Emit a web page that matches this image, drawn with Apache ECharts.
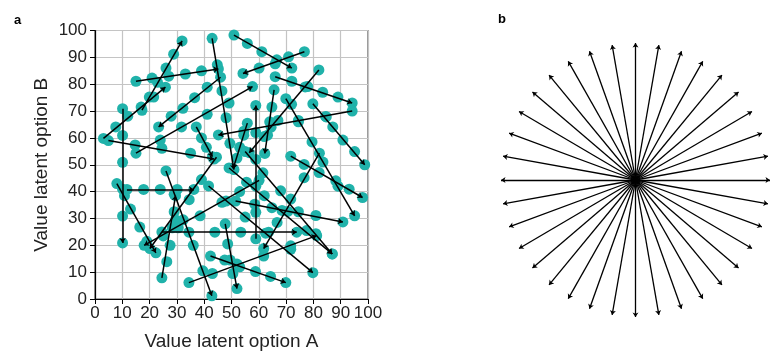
<!DOCTYPE html>
<html><head><meta charset="utf-8">
<script src="https://cdn.jsdelivr.net/npm/echarts@6/dist/echarts.min.js"></script>
<style>html,body{margin:0;padding:0;background:#fff}#c{width:770px;height:356px}</style>
</head><body><div id="c"></div>
<script>
// ---- Panel a: trajectories (first point -> last point, arrow at last) ----
const traj01=[[50.9,98.3],[55.8,95.2],[61.1,92.1],[66.6,89.1],[72.1,86.0]];
const traj02=[[76.7,92.1],[70.9,90.2],[66.0,87.6],[60.1,86.0],[54.2,84.0]];
const traj03=[[17.2,70.3],[19.9,75.2],[22.9,80.7],[26.0,86.0],[28.8,91.2],[31.9,96.1]];
const traj04=[[15.0,81.1],[20.9,82.3],[27.0,83.0],[33.1,83.8],[39.0,85.0],[45.2,85.7]];
const traj05=[[42.9,97.1],[44.8,87.2],[46.5,77.5],[48.0,67.5],[49.4,58.0],[50.9,48.2]];
const traj06=[[46.0,82.6],[41.1,78.9],[36.5,75.0],[32.2,71.0],[27.9,68.1],[23.3,64.1]];
const traj07=[[15.0,54.3],[23.9,59.2],[31.7,64.1],[41.1,68.8],[49.1,73.0],[57.7,79.1]];
const traj08=[[66.0,82.8],[72.1,81.1],[77.9,79.1],[83.4,77.0],[89.0,75.2],[94.2,73.0]];
const traj09=[[82.0,85.3],[77.0,79.0],[72.0,72.5],[67.0,66.5],[62.0,60.5],[56.5,54.5]];
const traj10=[[65.6,77.9],[64.8,71.5],[64.0,66.0],[63.2,61.0],[62.2,54.2]];
const traj11=[[58.9,22.4],[58.9,32.3],[58.9,42.0],[58.9,52.0],[58.9,62.0],[58.9,72.1]];
const traj12=[[10.1,70.9],[10.1,60.9],[10.1,50.9],[10.1,40.9],[10.1,30.9],[10.1,20.9]];
const traj13=[[11.7,40.8],[17.8,40.8],[23.9,40.8],[30.1,40.8],[36.2,40.8]];
const traj14=[[8.0,43.0],[10.8,38.5],[13.0,33.5],[16.4,26.8],[19.0,21.5],[22.3,17.2]];
const traj15=[[3.1,59.8],[7.6,64.1],[12.0,68.1],[16.9,71.5],[21.5,75.2],[25.8,78.9]];
const traj16=[[4.9,59.0],[14.7,57.4],[24.5,56.1],[35.0,54.3],[43.6,52.1]];
const traj17=[[44.5,52.8],[39.0,44.5],[34.5,37.0],[29.5,29.5],[25.0,23.5],[20.1,18.8]];
const traj18=[[60.1,44.2],[53.0,40.0],[46.5,36.0],[38.5,31.0],[30.5,26.5],[18.0,20.0]];
const traj19=[[24.5,7.9],[26.3,13.9],[27.5,20.0],[28.3,26.5],[29.0,32.5],[29.5,38.5]];
const traj20=[[26.0,47.7],[29.0,39.0],[32.3,29.5],[36.0,20.0],[39.5,10.5],[42.8,1.2]];
const traj21=[[24.5,25.0],[34.4,24.9],[43.9,24.9],[53.4,24.9],[63.6,24.9],[73.9,24.9]];
const traj22=[[34.4,6.1],[43.0,9.5],[52.0,13.0],[61.8,16.0],[71.7,19.8],[81.2,23.6]];
const traj23=[[42.3,16.0],[47.5,14.5],[53.0,12.0],[58.8,10.2],[64.3,8.4],[69.9,6.1]];
const traj24=[[47.7,28.0],[48.6,20.5],[49.5,14.5],[50.5,9.5],[52.0,3.9]];
const traj25=[[55.0,54.9],[61.5,47.0],[68.0,40.3],[74.5,32.5],[80.9,24.3],[86.9,16.8]];
const traj26=[[49.1,48.8],[55.5,43.5],[62.0,38.5],[68.5,33.0],[77.5,25.5],[86.9,16.8]];
const traj27=[[51.5,36.5],[58.5,35.3],[64.8,34.0],[70.6,32.6],[80.9,31.1],[90.8,28.7]];
const traj28=[[41.6,42.1],[48.0,36.5],[55.0,30.5],[62.5,24.5],[71.7,18.5],[79.8,9.8]];
const traj29=[[82.2,54.3],[76.6,45.2],[71.7,37.2],[66.7,28.5],[61.8,18.8]];
const traj30=[[69.9,74.6],[74.5,66.5],[79.5,58.5],[83.5,51.0],[89.0,42.0],[95.1,31.0]];
const traj31=[[79.8,72.7],[84.7,67.8],[87.1,64.1],[90.8,59.2],[95.1,54.9],[98.8,50.0]];
const traj32=[[71.7,53.2],[76.6,50.1],[82.1,47.1],[88.2,44.0],[93.1,40.9],[98.0,37.8]];
const traj33=[[94.2,70.0],[84.5,68.0],[74.5,66.0],[64.5,64.0],[54.5,62.5],[45.2,61.1]];
const traj34=[[55.8,65.5],[54.5,61.0],[53.0,56.5],[52.0,52.5],[50.6,48.5]];
const traj35=[[37.1,64.1],[39.0,60.0],[40.8,56.5],[43.0,53.0]];

const trajectories=[traj01,traj02,traj03,traj04,traj05,traj06,traj07,traj08,traj09,traj10,
 traj11,traj12,traj13,traj14,traj15,traj16,traj17,traj18,traj19,traj20,traj21,traj22,traj23,
 traj24,traj25,traj26,traj27,traj28,traj29,traj30,traj31,traj32,traj33,traj34,traj35];

const axisTicks=[0,10,20,30,40,50,60,70,80,90,100];
const xTitle='Value latent option A';
const yTitle='Value latent option B';

// ---- Panel b: star of arrows (angles in degrees), unit length ----
const starAngles=[0,10,20,30,40,50,60,70,80,90,100,110,120,130,140,150,160,170,
 180,190,200,210,220,230,240,250,260,270,280,290,300,310,320,330,340,350];
const starLength=1;

const font='Liberation Sans, Arial, sans-serif';
const pts=[]; trajectories.forEach(t=>t.forEach(p=>pts.push(p)));
const segs=trajectories.map(t=>({coords:[t[0],t[t.length-1]]}));
const star=starAngles.map(a=>{const r=a*Math.PI/180;return {coords:[[0,0],[starLength*Math.cos(r),starLength*Math.sin(r)]]};});

const chart=echarts.init(document.getElementById('c'),null,{renderer:'canvas'});
chart.setOption({
  animation:false,
  backgroundColor:'#fff',
  title:[
    {text:'a',left:9,top:9,textStyle:{fontSize:13,fontWeight:'bold',fontFamily:font,color:'#000'}},
    {text:'b',left:493,top:8,textStyle:{fontSize:13,fontWeight:'bold',fontFamily:font,color:'#000'}}
  ],
  grid:[
    {left:95,top:30.5,width:273,height:271,show:true,borderColor:'#555',borderWidth:1.2,backgroundColor:'transparent'},
    {left:501,top:43,width:274,height:274,show:false}
  ],
  xAxis:[
    {gridIndex:0,type:'value',min:0,max:100,interval:10,
     name:xTitle,nameLocation:'middle',nameGap:33,
     nameTextStyle:{fontSize:19,fontFamily:font,color:'#222'},
     axisLine:{show:true,onZero:false,lineStyle:{color:'#000',width:1.2}},
     axisTick:{show:true,inside:false,length:5,lineStyle:{color:'#000'}},
     axisLabel:{fontSize:17,fontFamily:font,color:'#222',margin:6,showMinLabel:true,showMaxLabel:true},
     splitLine:{show:true,lineStyle:{color:'#c4c4c4',width:1.2}}},
    {gridIndex:1,type:'value',min:-1,max:1,show:false}
  ],
  yAxis:[
    {gridIndex:0,type:'value',min:0,max:100,interval:10,
     name:yTitle,nameLocation:'middle',nameGap:44,nameRotate:90,
     nameTextStyle:{fontSize:19,fontFamily:font,color:'#222'},
     axisLine:{show:true,onZero:false,lineStyle:{color:'#000',width:1.2}},
     axisTick:{show:true,inside:false,length:5,lineStyle:{color:'#000'}},
     axisLabel:{fontSize:17,fontFamily:font,color:'#222',margin:8,showMinLabel:true,showMaxLabel:true},
     splitLine:{show:true,lineStyle:{color:'#c4c4c4',width:1.2}}},
    {gridIndex:1,type:'value',min:-1,max:1,show:false}
  ],
  series:[
    {type:'scatter',xAxisIndex:0,yAxisIndex:0,data:pts,symbolSize:11,
     itemStyle:{color:'#20b2aa',opacity:1},z:2,silent:true},
    {type:'lines',coordinateSystem:'cartesian2d',xAxisIndex:0,yAxisIndex:0,data:segs,
     symbol:['none','arrow'],symbolSize:5,
     lineStyle:{color:'#000',width:1.5,opacity:1},z:3,silent:true},
    {type:'lines',coordinateSystem:'cartesian2d',xAxisIndex:1,yAxisIndex:1,data:star,
     symbol:['none','arrow'],symbolSize:4.5,
     lineStyle:{color:'#000',width:1.3,opacity:1},z:3,silent:true}
  ]
});
</script></body></html>
